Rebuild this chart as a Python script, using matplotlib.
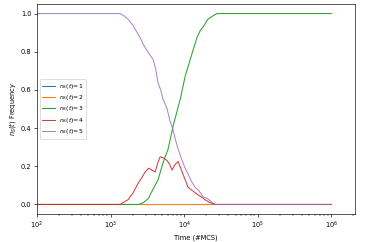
import matplotlib
matplotlib.use("Agg")
import matplotlib.pyplot as plt

plt.rcParams["font.size"] = 8.3

# temps (MCS) et frequences
t_start = 1
t_end = 1e6

t5 = [1, 1345, 1500, 1730, 2000, 2300, 2550, 2770, 3200, 3780, 4100, 4430, 4800, 5180, 5870,
      6400, 7080, 7600, 8280, 9390, 10300, 11300, 12600, 14100, 16000, 18100, 21000, 24000, 26500, 1e6]
f5 = [1.0, 1.0, 0.99, 0.97, 0.94, 0.90, 0.87, 0.84, 0.80, 0.76, 0.71, 0.635, 0.60, 0.55, 0.50,
      0.44, 0.39, 0.34, 0.29, 0.23, 0.19, 0.16, 0.12, 0.09, 0.07, 0.04, 0.03, 0.01, 0.0, 0.0]

t3 = [1, 2400, 2800, 3240, 3780, 4430, 5180, 6050, 7080, 8280, 8850, 10300, 12000, 13500,
      15000, 16500, 18100, 21000, 24000, 26500, 28000, 1e6]
f3 = [0.0, 0.0, 0.01, 0.03, 0.08, 0.13, 0.22, 0.29, 0.41, 0.51, 0.55, 0.67, 0.755, 0.82,
      0.875, 0.91, 0.93, 0.97, 0.985, 0.995, 1.0, 1.0]

t4 = [1, 1345, 1730, 2020, 2360, 2650, 2950, 3300, 3650, 4030, 4400, 4720, 5180, 5870, 6350,
      6850, 7530, 8280, 9390, 10300, 11300, 13200, 15400, 17000, 19200, 22300, 26500, 1e6]
f4 = [0.0, 0.0, 0.025, 0.06, 0.11, 0.14, 0.17, 0.19, 0.18, 0.17, 0.22, 0.25, 0.245, 0.23, 0.21,
      0.18, 0.21, 0.225, 0.17, 0.13, 0.09, 0.07, 0.05, 0.04, 0.025, 0.01, 0.0, 0.0]

t0 = [t_start, t_end]
f0 = [0.0, 0.0]

fig = plt.figure(figsize=(6.4, 4.2087), dpi=57.5)
ax = fig.add_axes([0.1005, 0.1157, 0.8642, 0.8678])

ax.plot(t0, f0, color="C0", lw=1.3, label=r"$n_S(t)$=1")
ax.plot(t0, f0, color="C1", lw=1.3, label=r"$n_S(t)$=2")
ax.plot(t3, f3, color="C2", lw=1.3, label=r"$n_S(t)$=3")
ax.plot(t4, f4, color="C3", lw=1.3, alpha=0.9, label=r"$n_S(t)$=4")
ax.plot(t5, f5, color="C4", lw=1.3, alpha=0.8, label=r"$n_S(t)$=5")

ax.set_xscale("log")
ax.set_xlim(1e2, 2.1e6)
ax.set_ylim(-0.05, 1.05)
ax.set_xlabel("Time (#MCS)")
ax.set_ylabel(r"$n_S(t)$ Frequency")
ax.legend(loc="center left", fontsize=7.6, labelspacing=0.4)

fig.savefig("out.png", dpi=57.5)
